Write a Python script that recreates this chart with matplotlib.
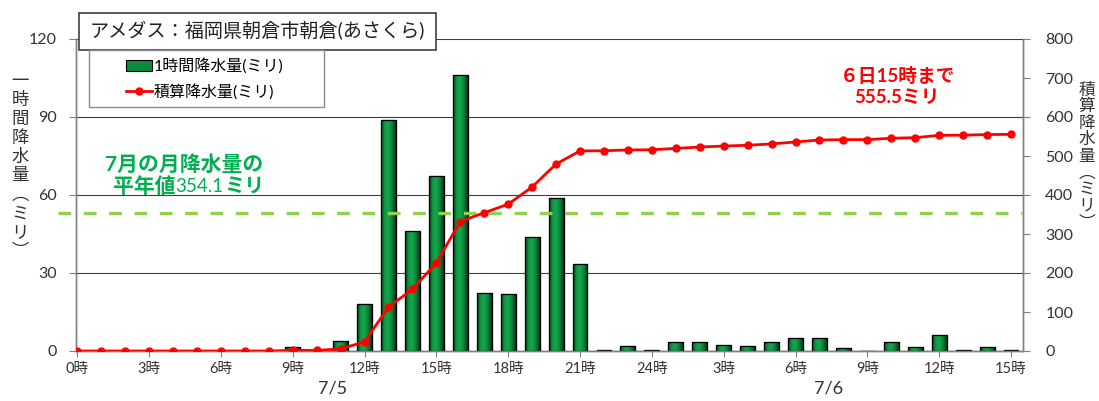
import numpy as np
import matplotlib
matplotlib.use("Agg")
import matplotlib.pyplot as plt
from matplotlib.patches import Rectangle
from matplotlib.colors import LinearSegmentedColormap

plt.rcParams['font.family'] = ['Lato', 'Noto Sans CJK JP', 'DejaVu Sans']

# Hourly precipitation (mm), 7/5 0時 through 7/6 15時
hourly = [0, 0, 0, 0, 0, 0, 0, 0, 0, 1.5,
          0, 4, 18, 89, 46, 67.5, 106, 22.5, 22, 44,
          59, 33.5, 0.5, 2, 0.5, 3.5, 3.5, 2.5, 2, 3.5,
          5, 5, 1, 0, 3.5, 1.5, 6, 0.5, 1.5, 0.5]
cumulative = np.cumsum(hourly)
july_normal = 354.1

tick_positions = list(range(0, 40, 3))
tick_labels = ["0時", "3時", "6時", "9時", "12時", "15時", "18時", "21時",
               "24時", "3時", "6時", "9時", "12時", "15時"]
date_labels = ["7/5", "7/6"]

title = "アメダス：福岡県朝倉市朝倉(あさくら)"
bar_label = "1時間降水量(ミリ)"
line_label = "積算降水量(ミリ)"
left_ylabel = ["一", "時", "間", "降", "水", "量", "︵", "ミ", "リ", "︶"]
right_ylabel = ["積", "算", "降", "水", "量", "︵", "ミ", "リ", "︶"]

W, H = 1099, 401
fig = plt.figure(figsize=(W / 100, H / 100), dpi=100)


def fx(px):
    return px / W


def fy(py):
    return 1 - py / H


ax = fig.add_axes([fx(76), fy(351), fx(1023) - fx(76), fy(39) - fy(351)])
ax.set_zorder(1)
ax2 = ax.twinx()
ax2.set_zorder(2)
ax2.patch.set_visible(False)

x = np.arange(len(hourly))
bw = 0.62
grid_col = "#3f3f3f"
axis_col = "#808080"

# bars: filled patches, a cylinder-like shading clipped to each, then outlines
bars = ax.bar(x, hourly, width=bw, color="#0b8a3c", edgecolor="black",
              linewidth=0.8, zorder=3, label=bar_label)
shade = LinearSegmentedColormap.from_list(
    "shade", ["#063a17", "#0f9c45", "#12a84c", "#0a7f36", "#04361a"])
grad = np.linspace(0, 1, 64).reshape(1, -1)
for rect, xi, h in zip(bars, x, hourly):
    if h <= 0:
        continue
    im = ax.imshow(grad, extent=[xi - bw / 2, xi + bw / 2, 0, h],
                   aspect="auto", cmap=shade, zorder=3.5, interpolation="bicubic")
    im.set_clip_path(rect)
ax.bar(x, hourly, width=bw, fill=False, edgecolor="black", linewidth=0.9, zorder=4)

ax.set_xlim(-0.05, 39.5)
ax.set_ylim(0, 120)
ax2.set_ylim(0, 800)

# July normal (dashed)
ax2.plot([-0.8, 39.45], [july_normal, july_normal], color="#92D050", lw=2.4,
         dashes=(3.8, 3.8), clip_on=False, zorder=3)

# cumulative line
line, = ax2.plot(x, cumulative, color="#FF0000", lw=2, marker="o", ms=5,
                 zorder=5, label=line_label)

ax.set_yticks([0, 30, 60, 90, 120])
ax.yaxis.grid(True, color=grid_col, lw=0.8)
ax.set_axisbelow(True)
ax.set_xticks(tick_positions)
ax.set_xticklabels(tick_labels)
ax2.set_yticks(range(0, 801, 100))

for a in (ax, ax2):
    for s in a.spines.values():
        s.set_color(axis_col)
        s.set_linewidth(1.0)
    a.spines["top"].set_visible(False)
ax.tick_params(axis="y", direction="out", length=5, color=axis_col,
               labelsize=11.5, pad=9, labelcolor="#333333")
ax.tick_params(axis="x", direction="out", length=4, color=axis_col,
               labelsize=10.5, pad=4, labelcolor="#333333")
ax2.tick_params(axis="y", direction="out", length=5, color=axis_col,
                labelsize=11.5, pad=11, labelcolor="#333333")

# stacked vertical axis titles
fig.text(fx(20), fy(166), "\n".join(left_ylabel), ha="center", va="center",
         fontsize=12.5, linespacing=1.22, color="#333333")
fig.text(fx(1087), fy(156), "\n".join(right_ylabel), ha="center", va="center",
         fontsize=12, linespacing=1.05, color="#333333")

# date labels
fig.text(fx(333), fy(388), date_labels[0], ha="center", va="center",
         fontsize=13, color="#333333")
fig.text(fx(829), fy(388), date_labels[1], ha="center", va="center",
         fontsize=13, color="#333333")

# title box
fig.add_artist(Rectangle((fx(79), fy(50)), fx(436) - fx(79), fy(13) - fy(50),
                         transform=fig.transFigure, facecolor="white",
                         edgecolor="#404040", lw=1.2, zorder=10))
fig.text(fx(257), fy(31), title, ha="center", va="center", fontsize=13.8,
         color="#222222", zorder=11)

# legend with its own frame
fig.add_artist(Rectangle((fx(89), fy(107)), fx(324) - fx(89), fy(50) - fy(107),
                         transform=fig.transFigure, facecolor="white",
                         edgecolor="#8c8c8c", lw=1.0, zorder=10))
leg = fig.legend(handles=[bars, line], labels=[bar_label, line_label],
                 loc="upper left", bbox_to_anchor=(fx(126), fy(58)),
                 bbox_transform=fig.transFigure, frameon=False, fontsize=11.5,
                 handlelength=1.6, handletextpad=0.15, labelspacing=0.62,
                 borderpad=0, borderaxespad=0)
leg.set_zorder(12)

# July normal annotation
green = "#00B050"
fig.text(fx(184), fy(165), "7月の月降水量の", ha="center", va="center",
         fontsize=15, fontweight="bold", color=green)
renderer = fig.canvas.get_renderer()
pieces = [("平年値", "bold", 15), (f"{july_normal}", "normal", 13.5),
          ("ミリ", "bold", 14.5)]
cur = fx(113)
for txt, wt, fs in pieces:
    t = fig.text(cur, fy(187), txt, ha="left", va="center", fontsize=fs,
                 fontweight=wt, color=green)
    bb = t.get_window_extent(renderer=renderer)
    cur += bb.width / (W)

# total annotation
red = "#FF0000"
fig.text(fx(898), fy(76), "６日15時まで", ha="center", va="center",
         fontsize=13.5, fontweight="bold", color=red)
fig.text(fx(897), fy(97), f"{cumulative[-1]:.1f}ミリ", ha="center", va="center",
         fontsize=13.5, fontweight="bold", color=red)

fig.savefig("out.png", dpi=100)
